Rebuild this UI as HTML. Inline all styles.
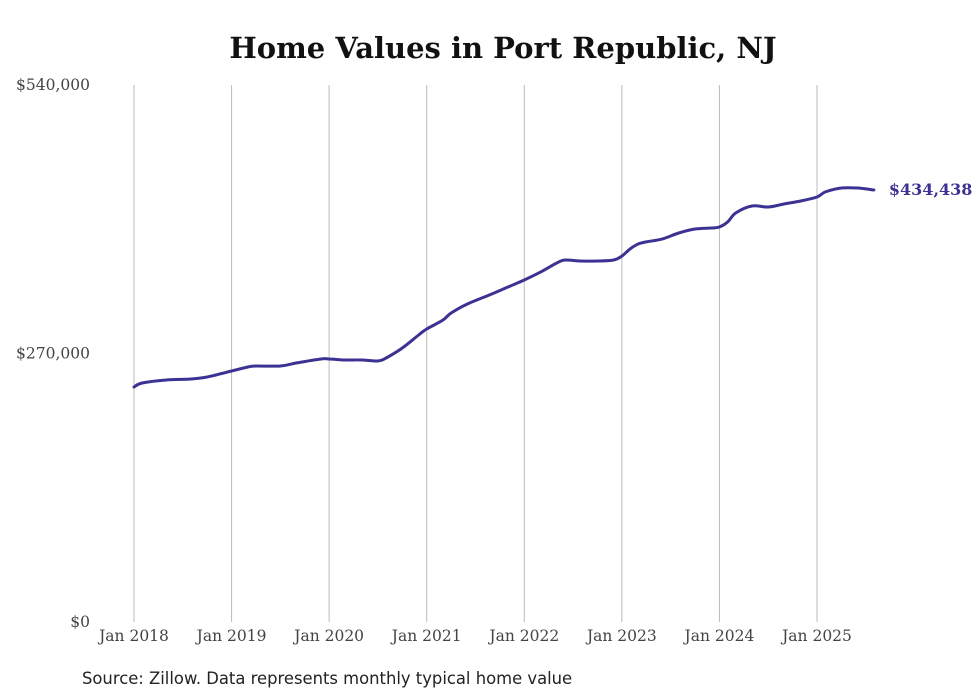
<!DOCTYPE html>
<html><head><meta charset="utf-8"><style>
body{margin:0;background:#fff;width:980px;height:699px;overflow:hidden}
svg{display:block}
</style></head><body>
<svg id="chart" width="980" height="699">
<text x="503" y="58" text-anchor="middle" font-family="'DejaVu Serif','Liberation Serif',serif" font-weight="bold" font-size="29" fill="#111">Home Values in Port Republic, NJ</text>
<g id="grid"></g><g id="yaxis"></g><g id="xaxis"></g><g id="series"></g>
<text x="82" y="684" font-family="'DejaVu Sans','Liberation Sans',sans-serif" font-size="16.4" fill="#222">Source: Zillow. Data represents monthly typical home value</text>
</svg>
<script>
const monthIndex=[0,1,4,7,9,12,14,15,18,20,23,24,26,28,30,31,33,35,36,38,39,41,44,46,48,50,52,53,55,57,59,60,61,62,63,65,67,69,71,72,73,74,76,78,80,82,84,85,87,89,91];
const values=[236300,240300,243400,244400,246400,252400,256400,257400,257400,260500,264500,264500,263500,263500,262500,265500,275500,288600,294600,303700,310700,319800,329800,336900,343900,351900,361000,364000,363000,363000,364000,368000,375100,380100,382200,385200,391200,395200,396200,397200,402200,411300,418300,417300,420400,423400,427400,432400,436400,436400,434438];
const yTicks=[0,270000,540000];
const yTickLabels=["$0","$270,000","$540,000"];
const xTickMonths=[0,12,24,36,48,60,72,84];
const xTickLabels=["Jan 2018","Jan 2019","Jan 2020","Jan 2021","Jan 2022","Jan 2023","Jan 2024","Jan 2025"];
const lastLabel="$434,438";
const NS="http://www.w3.org/2000/svg";
const x=m=>134+m*(817-134)/84;
const y=v=>622-v/540000*537;
function mk(tag,attrs,parent){const e=document.createElementNS(NS,tag);for(const k in attrs)e.setAttribute(k,attrs[k]);parent.appendChild(e);return e;}
const grid=document.getElementById('grid'),ya=document.getElementById('yaxis'),xa=document.getElementById('xaxis'),se=document.getElementById('series');
xTickMonths.forEach((m,i)=>{
 const l=mk('line',{x1:x(m),x2:x(m),y1:85,y2:622,stroke:'#bbb','stroke-width':1},grid);
 
 
 const t=mk('text',{x:x(m),y:641,'text-anchor':'middle','font-family':"'DejaVu Serif','Liberation Serif',serif",'font-size':15.5,fill:'#444'},xa);
 t.textContent=xTickLabels[i];
 
 
});
yTicks.forEach((v,i)=>{
 const t=mk('text',{x:90,y:y(v)+5,'text-anchor':'end','font-family':"'DejaVu Serif','Liberation Serif',serif",'font-size':15.5,fill:'#444'},ya);
 t.textContent=yTickLabels[i];
 
 
});
const pts=monthIndex.map((m,i)=>[x(m),y(values[i])]);
let d='M'+pts[0][0].toFixed(1)+','+pts[0][1].toFixed(1);
for(let i=0;i<pts.length-1;i++){
 const p0=pts[i-1]||pts[i],p1=pts[i],p2=pts[i+1],p3=pts[i+2]||p2;
 const c1=[p1[0]+(p2[0]-p0[0])/6,p1[1]+(p2[1]-p0[1])/6],c2=[p2[0]-(p3[0]-p1[0])/6,p2[1]-(p3[1]-p1[1])/6];
 d+='C'+c1.map(n=>n.toFixed(1))+' '+c2.map(n=>n.toFixed(1))+' '+p2.map(n=>n.toFixed(1));
}
const p=mk('path',{d:d,fill:'none',stroke:'#3b3293','stroke-width':3,'stroke-linejoin':'round','stroke-linecap':'round'},se);


const li=values.length-1;
const lt=mk('text',{x:x(monthIndex[li])+15,y:y(values[li])+5,'font-family':"'DejaVu Serif','Liberation Serif',serif",'font-weight':'bold','font-size':16,fill:'#3b3293'},se);
lt.textContent=lastLabel;


</script>
</body></html>
